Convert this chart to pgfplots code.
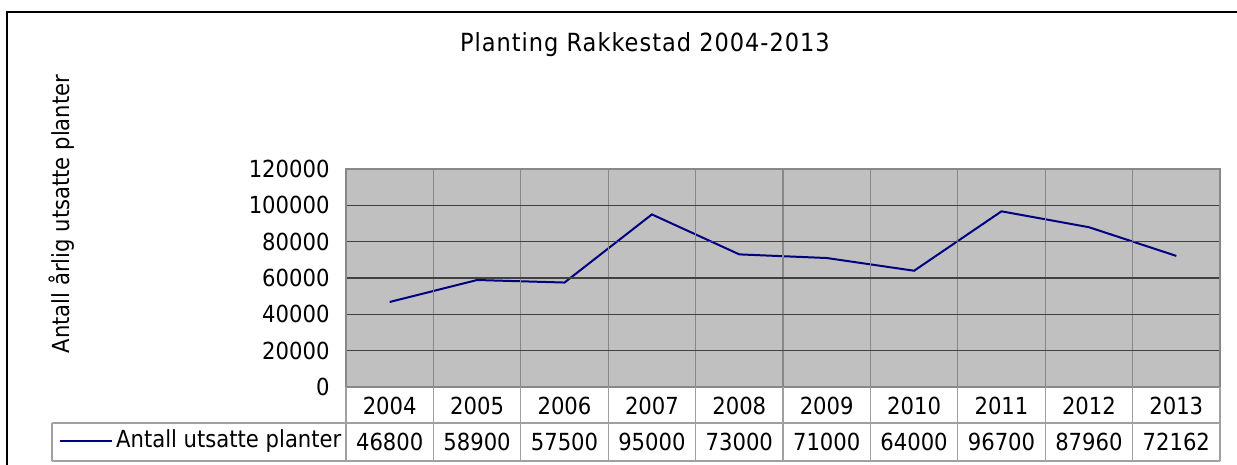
\documentclass[border=0pt]{standalone}
\usepackage{fontspec}
\setmainfont{DejaVu Sans Condensed}
\usepackage{pgfplots}
\pgfplotsset{compat=1.18}
\definecolor{navyline}{RGB}{0,0,128}
\definecolor{plotbg}{RGB}{192,192,192}
\definecolor{gridh}{RGB}{64,64,64}
\definecolor{gridv}{RGB}{136,136,136}
\definecolor{tabline}{RGB}{160,160,160}

\newcommand{\chartfont}{\fontsize{23.5bp}{28bp}\selectfont}
\newcommand{\titlefont}{\fontsize{25bp}{30bp}\selectfont\addfontfeatures{LetterSpace=4}}

\begin{document}
\begin{tikzpicture}[font=\chartfont]

% plot area: x 346..1220 px, y 169..387 px (1 px = 1 bp, y down = negative)
\begin{axis}[
  at={(346bp,-387bp)}, anchor=south west,
  width=874bp, height=218bp, scale only axis,
  xmin=-0.5, xmax=9.5, ymin=0, ymax=120000,
  axis background/.style={fill=plotbg},
  axis on top,
  axis line style={draw=gridv, line width=1.2bp},
  xtick={-0.5,0.5,...,9.5}, xticklabels={},
  ytick={0,20000,40000,60000,80000,100000,120000},
  yticklabels={0,20000,40000,60000,80000,100000,120000},
  scaled y ticks=false,
  yticklabel style={font=\chartfont, xshift=-13bp},
  major tick length=0pt,
  xmajorgrids, ymajorgrids,
  x grid style={draw=gridv, line width=1.2bp},
  y grid style={draw=gridh, line width=1.5bp},
  clip=false,
]
\addplot[color=navyline, line width=2bp]
  coordinates {(0,46800)(1,58900)(2,57500)(3,95000)(4,73000)
               (5,71000)(6,64000)(7,96700)(8,87960)(9,72162)};
\draw[black!80, line width=2.2bp] (rel axis cs:0,0) -- (rel axis cs:0,1);
\end{axis}

\begin{scope}[x=1bp, y=1bp]
% outer frame (runs off right and bottom)
\draw[black, line width=1.5bp] (1237,-12) -- (7,-12) -- (7,-465);

% title and y label
\node[font=\titlefont] at (645,-45) {Planting Rakkestad 2004-2013};
\node[rotate=90] at (62,-214) {Antall årlig utsatte planter};

% data table
\foreach \k in {0,...,10}
  \draw[tabline, line width=1.2bp] (346+87.4*\k,-387) -- (346+87.4*\k,-461);
\draw[tabline, line width=1.2bp] (52,-423) -- (1220,-423);
\draw[tabline, line width=1.2bp] (52,-461) -- (1220,-461);
\draw[tabline, line width=1.2bp] (52,-423) -- (52,-461);

\foreach \yr [count=\i from 0] in {2004,2005,2006,2007,2008,2009,2010,2011,2012,2013}
  \node at (346+87.4*\i+43.7,-406) {\yr};
\foreach \v [count=\i from 0] in {46800,58900,57500,95000,73000,71000,64000,96700,87960,72162}
  \node at (346+87.4*\i+43.7,-442) {\v};

\draw[navyline, line width=2bp] (60,-441) -- (112,-441);
\node[anchor=west, inner sep=0pt] at (116,-441) {Antall utsatte planter};
\end{scope}

\pgfresetboundingbox
\path (0,0) rectangle (1237bp,-465bp);
\end{tikzpicture}
\end{document}
